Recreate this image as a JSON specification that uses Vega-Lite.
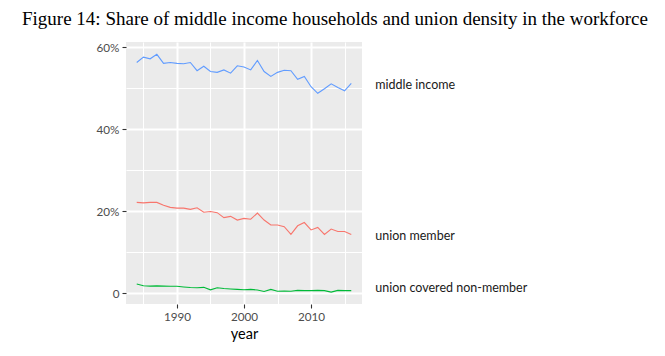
{
  "$schema": "https://vega.github.io/schema/vega-lite/v6.json",
  "width": 236,
  "height": 262,
  "autosize": {"type": "none"},
  "padding": {"left": 126, "top": 42, "right": 303, "bottom": 52},
  "background": "white",
  "title": {
    "text": "Figure 14: Share of middle income households and union density in the workforce",
    "font": "Liberation Serif",
    "fontSize": 19,
    "fontWeight": "normal",
    "color": "#000000",
    "anchor": "start",
    "frame": "group",
    "dx": -104,
    "dy": 19,
    "offset": 17,
    "baseline": "alphabetic"
  },
  "config": {
    "view": {"fill": "#EBEBEB", "stroke": null},
    "axis": {
      "domain": false,
      "gridColor": "#FFFFFF",
      "tickColor": "#333333",
      "tickSize": 4,
      "tickWidth": 1.1,
      "labelColor": "#4D4D4D",
      "labelFont": "Lato",
      "labelFontSize": 11.7,
      "labelPadding": 3,
      "labelOverlap": false,
      "titleFont": "Lato",
      "titleFontSize": 14.5,
      "titleFontWeight": "normal",
      "titleColor": "#000000"
    }
  },
  "datasets": {
    "series": [
      {"year": 1984, "series": "middle income", "value": 56.3},
      {"year": 1985, "series": "middle income", "value": 57.6},
      {"year": 1986, "series": "middle income", "value": 57.2},
      {"year": 1987, "series": "middle income", "value": 58.3},
      {"year": 1988, "series": "middle income", "value": 56.1},
      {"year": 1989, "series": "middle income", "value": 56.3},
      {"year": 1990, "series": "middle income", "value": 56.1},
      {"year": 1991, "series": "middle income", "value": 56.0},
      {"year": 1992, "series": "middle income", "value": 56.3},
      {"year": 1993, "series": "middle income", "value": 54.3},
      {"year": 1994, "series": "middle income", "value": 55.4},
      {"year": 1995, "series": "middle income", "value": 54.1},
      {"year": 1996, "series": "middle income", "value": 53.9},
      {"year": 1997, "series": "middle income", "value": 54.5},
      {"year": 1998, "series": "middle income", "value": 53.7},
      {"year": 1999, "series": "middle income", "value": 55.5},
      {"year": 2000, "series": "middle income", "value": 55.2},
      {"year": 2001, "series": "middle income", "value": 54.5},
      {"year": 2002, "series": "middle income", "value": 56.8},
      {"year": 2003, "series": "middle income", "value": 54.1},
      {"year": 2004, "series": "middle income", "value": 52.9},
      {"year": 2005, "series": "middle income", "value": 53.9},
      {"year": 2006, "series": "middle income", "value": 54.4},
      {"year": 2007, "series": "middle income", "value": 54.3},
      {"year": 2008, "series": "middle income", "value": 52.2},
      {"year": 2009, "series": "middle income", "value": 52.9},
      {"year": 2010, "series": "middle income", "value": 50.4},
      {"year": 2011, "series": "middle income", "value": 48.8},
      {"year": 2012, "series": "middle income", "value": 49.9},
      {"year": 2013, "series": "middle income", "value": 51.1},
      {"year": 2014, "series": "middle income", "value": 50.2},
      {"year": 2015, "series": "middle income", "value": 49.4},
      {"year": 2016, "series": "middle income", "value": 51.2},
      {"year": 1984, "series": "union member", "value": 22.2},
      {"year": 1985, "series": "union member", "value": 22.1},
      {"year": 1986, "series": "union member", "value": 22.2},
      {"year": 1987, "series": "union member", "value": 22.2},
      {"year": 1988, "series": "union member", "value": 21.5},
      {"year": 1989, "series": "union member", "value": 21.0},
      {"year": 1990, "series": "union member", "value": 20.8},
      {"year": 1991, "series": "union member", "value": 20.8},
      {"year": 1992, "series": "union member", "value": 20.5},
      {"year": 1993, "series": "union member", "value": 20.9},
      {"year": 1994, "series": "union member", "value": 19.8},
      {"year": 1995, "series": "union member", "value": 20.0},
      {"year": 1996, "series": "union member", "value": 19.7},
      {"year": 1997, "series": "union member", "value": 18.5},
      {"year": 1998, "series": "union member", "value": 18.8},
      {"year": 1999, "series": "union member", "value": 17.9},
      {"year": 2000, "series": "union member", "value": 18.3},
      {"year": 2001, "series": "union member", "value": 18.1},
      {"year": 2002, "series": "union member", "value": 19.6},
      {"year": 2003, "series": "union member", "value": 17.9},
      {"year": 2004, "series": "union member", "value": 16.7},
      {"year": 2005, "series": "union member", "value": 16.7},
      {"year": 2006, "series": "union member", "value": 16.3},
      {"year": 2007, "series": "union member", "value": 14.4},
      {"year": 2008, "series": "union member", "value": 16.5},
      {"year": 2009, "series": "union member", "value": 17.3},
      {"year": 2010, "series": "union member", "value": 15.5},
      {"year": 2011, "series": "union member", "value": 16.1},
      {"year": 2012, "series": "union member", "value": 14.4},
      {"year": 2013, "series": "union member", "value": 15.7},
      {"year": 2014, "series": "union member", "value": 15.1},
      {"year": 2015, "series": "union member", "value": 15.1},
      {"year": 2016, "series": "union member", "value": 14.4},
      {"year": 1984, "series": "union covered non-member", "value": 2.3},
      {"year": 1985, "series": "union covered non-member", "value": 1.9},
      {"year": 1986, "series": "union covered non-member", "value": 1.8},
      {"year": 1987, "series": "union covered non-member", "value": 1.85},
      {"year": 1988, "series": "union covered non-member", "value": 1.8},
      {"year": 1989, "series": "union covered non-member", "value": 1.75},
      {"year": 1990, "series": "union covered non-member", "value": 1.75},
      {"year": 1991, "series": "union covered non-member", "value": 1.6},
      {"year": 1992, "series": "union covered non-member", "value": 1.45},
      {"year": 1993, "series": "union covered non-member", "value": 1.4},
      {"year": 1994, "series": "union covered non-member", "value": 1.5},
      {"year": 1995, "series": "union covered non-member", "value": 0.9},
      {"year": 1996, "series": "union covered non-member", "value": 1.4},
      {"year": 1997, "series": "union covered non-member", "value": 1.2},
      {"year": 1998, "series": "union covered non-member", "value": 1.1},
      {"year": 1999, "series": "union covered non-member", "value": 1.0},
      {"year": 2000, "series": "union covered non-member", "value": 0.9},
      {"year": 2001, "series": "union covered non-member", "value": 1.0},
      {"year": 2002, "series": "union covered non-member", "value": 0.85},
      {"year": 2003, "series": "union covered non-member", "value": 0.5},
      {"year": 2004, "series": "union covered non-member", "value": 1.0},
      {"year": 2005, "series": "union covered non-member", "value": 0.55},
      {"year": 2006, "series": "union covered non-member", "value": 0.6},
      {"year": 2007, "series": "union covered non-member", "value": 0.55},
      {"year": 2008, "series": "union covered non-member", "value": 0.75},
      {"year": 2009, "series": "union covered non-member", "value": 0.7},
      {"year": 2010, "series": "union covered non-member", "value": 0.7},
      {"year": 2011, "series": "union covered non-member", "value": 0.75},
      {"year": 2012, "series": "union covered non-member", "value": 0.7},
      {"year": 2013, "series": "union covered non-member", "value": 0.35},
      {"year": 2014, "series": "union covered non-member", "value": 0.75},
      {"year": 2015, "series": "union covered non-member", "value": 0.7},
      {"year": 2016, "series": "union covered non-member", "value": 0.7}
    ],
    "labels": [
      {"year": 2016, "series": "middle income", "value": 50.8},
      {"year": 2016, "series": "union member", "value": 14.1},
      {"year": 2016, "series": "union covered non-member", "value": 1.4}
    ]
  },
  "layer": [
    {
      "data": {"name": "series"},
      "mark": {"type": "line", "strokeWidth": 1.1},
      "encoding": {
        "x": {
          "field": "year",
          "type": "quantitative",
          "scale": {"domain": [1982.4, 2017.6], "nice": false, "zero": false},
          "axis": {
            "title": "year",
            "titlePadding": 5,
            "tickCount": 20,
            "values": [1985, 1990, 1995, 2000, 2005, 2010, 2015],
            "labelExpr": "datum.value % 10 == 0 ? '' + datum.value : ''",
            "gridWidth": {"condition": {"test": "datum.value % 10 == 0", "value": 2}, "value": 1},
            "tickOpacity": {"condition": {"test": "datum.value % 10 == 0", "value": 1}, "value": 0}
          }
        },
        "y": {
          "field": "value",
          "type": "quantitative",
          "scale": {"domain": [-2.56, 61.3], "nice": false, "zero": false},
          "axis": {
            "title": null,
            "tickCount": 20,
            "values": [0, 10, 20, 30, 40, 50, 60],
            "labelExpr": "datum.value % 20 == 0 ? (datum.value == 0 ? '0' : datum.value + '%') : ''",
            "gridWidth": {"condition": {"test": "datum.value % 20 == 0", "value": 2}, "value": 1},
            "tickOpacity": {"condition": {"test": "datum.value % 20 == 0", "value": 1}, "value": 0}
          }
        },
        "color": {
          "field": "series",
          "type": "nominal",
          "scale": {
            "domain": ["union member", "union covered non-member", "middle income"],
            "range": ["#F8766D", "#00BA38", "#619CFF"]
          },
          "legend": null
        }
      }
    },
    {
      "data": {"name": "labels"},
      "mark": {
        "type": "text",
        "align": "left",
        "baseline": "middle",
        "dx": 24,
        "font": "Lato",
        "fontSize": 12.5,
        "color": "#1A1A1A"
      },
      "encoding": {
        "x": {"field": "year", "type": "quantitative"},
        "y": {"field": "value", "type": "quantitative"},
        "text": {"field": "series", "type": "nominal"}
      }
    }
  ]
}
